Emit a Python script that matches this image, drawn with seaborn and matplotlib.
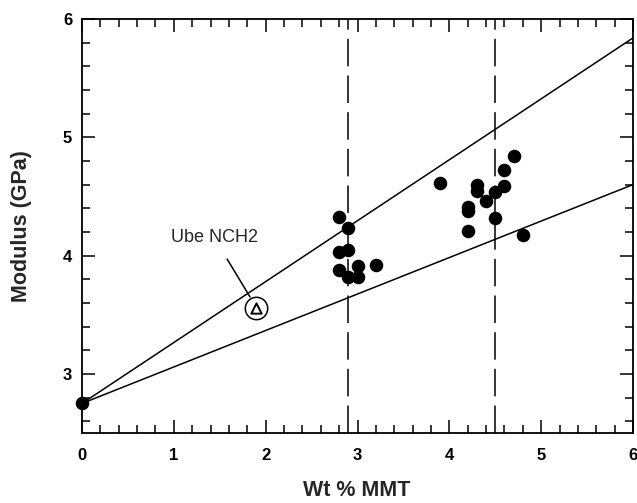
import matplotlib
matplotlib.use("Agg")
import matplotlib.pyplot as plt
import seaborn as sns
import pandas as pd
from matplotlib.ticker import MultipleLocator

sns.set_style("ticks")
plt.rcParams['font.family'] = ['Liberation Sans', 'DejaVu Sans']

# Data
wt_mmt = [0.0, 2.8, 2.9, 2.8, 2.9, 2.8, 3.0, 2.9, 3.0, 3.2,
          3.9, 4.7, 4.6, 4.3, 4.3, 4.6, 4.5, 4.4, 4.2, 4.2, 4.5, 4.2, 4.8]
modulus = [2.75, 4.33, 4.23, 4.03, 4.05, 3.88, 3.91, 3.82, 3.82, 3.92,
           4.61, 4.84, 4.72, 4.60, 4.55, 4.59, 4.54, 4.46, 4.41, 4.38, 4.32, 4.21, 4.17]
line_x = [0.0, 6.0]
upper_y = [2.75, 5.84]
lower_y = [2.75, 4.60]
vlines_x = [2.9, 4.5]
ube_x, ube_y = 1.9, 3.56
ube_label = "Ube NCH2"
x_ticks = [0, 1, 2, 3, 4, 5, 6]
y_ticks = [3, 4, 5, 6]

fig = plt.figure(figsize=(6.37, 5.03), dpi=100)
ax = fig.add_axes([82/637, 1-433/503, 551/637, 414/503])

lw = 1.1
df_lines = pd.DataFrame({"x": line_x * 2, "y": upper_y + lower_y,
                         "which": ["upper"] * 2 + ["lower"] * 2})
sns.lineplot(data=df_lines, x="x", y="y", units="which", estimator=None,
             color="black", lw=lw, ax=ax, legend=False)

for vx in vlines_x:
    ax.axvline(vx, color="black", lw=lw, ls=(0, (18, 6)), zorder=1)

df = pd.DataFrame({"wt": wt_mmt, "mod": modulus})
sns.scatterplot(data=df, x="wt", y="mod", color="black", s=95,
                edgecolor="black", linewidth=0, ax=ax, zorder=5, clip_on=False)

# Ube NCH2 marker
ax.scatter([ube_x], [ube_y], s=260, facecolor="white", edgecolor="black",
           linewidth=1.1, zorder=6)
ax.scatter([ube_x], [ube_y], marker="^", s=55, facecolor="white",
           edgecolor="black", linewidth=1.4, zorder=7)
ax.annotate(ube_label, xy=(1.83, 3.65), xytext=(1.44, 4.15),
            ha="center", va="center", fontsize=13,
            arrowprops=dict(arrowstyle="-", color="black", lw=1.1,
                            shrinkA=8, shrinkB=0))

ax.set_xlim(0, 6)
ax.set_ylim(2.5, 6)
ax.set_xticks(x_ticks)
ax.set_yticks(y_ticks)
ax.xaxis.set_minor_locator(MultipleLocator(0.2))
ax.yaxis.set_minor_locator(MultipleLocator(0.2))
ax.tick_params(which="both", direction="in", top=True, right=True,
               width=1.1, colors="black")
ax.tick_params(which="major", length=9.5)
ax.tick_params(which="minor", length=6)
ax.tick_params(axis="x", which="major", pad=10.5, labelsize=12)
ax.tick_params(axis="y", which="major", pad=7, labelsize=12)
ax.tick_params(axis="y", which="both", labelright=False)
for lab in ax.get_xticklabels() + ax.get_yticklabels():
    lab.set_fontweight("bold")

for sp in ax.spines.values():
    sp.set_linewidth(1.3)
    sp.set_color("black")

ax.set_xlabel("Wt % MMT", fontsize=15.5, fontweight="bold", va="center")
ax.set_ylabel("Modulus (GPa)", fontsize=15.5, fontweight="bold", va="center")
ax.xaxis.set_label_coords((357-82)/551, (433-491)/414)
ax.yaxis.set_label_coords((22-82)/551, 0.5)

fig.savefig("out.png", dpi=100)
